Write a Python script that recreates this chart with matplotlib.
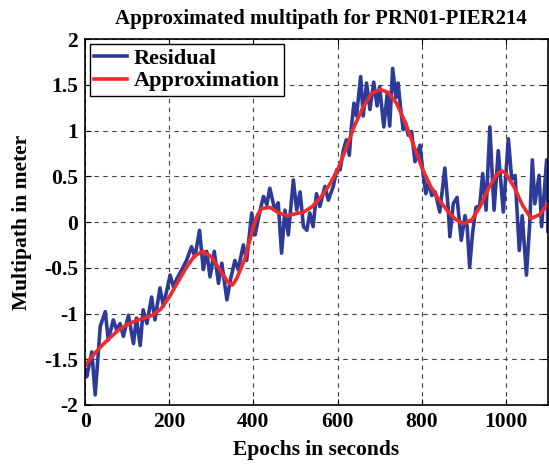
import numpy as np
import matplotlib
matplotlib.use("Agg")
import matplotlib.pyplot as plt
from matplotlib.ticker import FormatStrFormatter

plt.rcParams["font.family"] = ["Liberation Serif", "DejaVu Serif"]
plt.rcParams["font.weight"] = "bold"
plt.rcParams["axes.unicode_minus"] = False

# residual multipath
res_t = [0, 4, 16, 24, 36, 48, 55, 67, 75, 83, 91, 103, 115, 122, 131, 138, 147,
         158, 166, 178, 186, 202, 210, 218, 230, 241, 253, 261, 272, 281, 289, 297,
         307, 317, 325, 337, 346, 356, 364, 376, 384, 396, 404, 416, 424, 432, 439,
         451, 459, 467, 475, 483, 495, 503, 511, 519, 527, 534, 542, 550, 558, 570,
         578, 590, 598, 606, 614, 621, 628, 633, 639, 645, 655, 661, 669, 677, 686,
         694, 700, 710, 718, 724, 731, 739, 744, 750, 756, 762, 768, 776, 784, 796,
         804, 810, 816, 824, 832, 843, 855, 863, 867, 875, 884, 894, 903, 908, 914,
         921, 929, 938, 945, 953, 962, 972, 982, 994, 1006, 1014, 1022, 1032, 1039,
         1049, 1057, 1063, 1069, 1079, 1085, 1097, 1100]
res_v = [-1.62, -1.69, -1.42, -1.89, -1.14, -0.98, -1.29, -1.07, -1.18, -1.11, -1.25,
         -1.02, -1.33, -1.05, -1.35, -0.96, -1.11, -0.82, -1.07, -0.72, -0.92, -0.58,
         -0.71, -0.62, -0.52, -0.42, -0.27, -0.38, -0.09, -0.52, -0.32, -0.60, -0.32,
         -0.67, -0.45, -0.85, -0.62, -0.42, -0.52, -0.25, -0.42, 0.10, -0.14, 0.13,
         0.28, 0.19, 0.37, 0.13, 0.21, -0.34, 0.13, -0.14, 0.46, 0.13, 0.33, -0.05,
         -0.09, 0.10, -0.05, 0.31, 0.17, 0.39, 0.24, 0.39, 0.57, 0.57, 0.79, 0.90,
         0.73, 1.04, 1.30, 1.16, 1.59, 1.16, 1.52, 1.23, 1.53, 1.27, 1.48, 1.04, 1.40,
         1.05, 1.68, 1.36, 1.52, 1.24, 1.01, 1.08, 0.95, 0.99, 0.66, 0.84, 0.50, 0.31,
         0.44, 0.29, 0.33, 0.11, 0.59, 0.15, -0.16, 0.20, 0.27, -0.20, 0.07, -0.05,
         -0.49, -0.12, 0.16, 0.18, 0.53, 0.13, 1.04, 0.13, 0.78, 0.11, 0.91, 0.47,
         0.51, -0.31, 0.07, -0.58, 0.00, 0.68, 0.20, 0.51, -0.05, 0.68, -0.10]

# smooth approximation
app_t = [0, 20, 40, 60, 80, 100, 120, 140, 160, 180, 200, 220, 240, 260, 280, 300,
         320, 340, 350, 360, 380, 400, 410, 420, 440, 460, 480, 500, 520, 540, 560,
         580, 600, 620, 640, 660, 680, 700, 720, 740, 760, 780, 800, 820, 840, 860,
         880, 900, 920, 940, 960, 980, 990, 1000, 1020, 1040, 1060, 1080, 1100]
app_v = [-1.57, -1.45, -1.35, -1.26, -1.18, -1.12, -1.08, -1.05, -1.02, -0.95, -0.82,
         -0.66, -0.50, -0.37, -0.32, -0.38, -0.52, -0.66, -0.69, -0.62, -0.40, -0.05,
         0.08, 0.15, 0.16, 0.10, 0.07, 0.09, 0.11, 0.17, 0.27, 0.40, 0.57, 0.80, 1.05,
         1.25, 1.40, 1.45, 1.42, 1.30, 1.10, 0.85, 0.60, 0.40, 0.25, 0.13, 0.03, -0.02,
         0.03, 0.18, 0.38, 0.53, 0.56, 0.53, 0.38, 0.18, 0.04, 0.08, 0.20]

fig = plt.figure(figsize=(5.49, 4.66), dpi=100)
ax = fig.add_axes([0.155, 0.131, 0.843, 0.785])

ax.plot(res_t, res_v, color="#2e3a98", lw=2.6, label="Residual")
ax.plot(app_t, app_v, color="#ee2a2a", lw=2.6, label="Approximation")

ax.set_xlim(0, 1100)
ax.set_ylim(-2, 2)
ax.set_xticks([0, 200, 400, 600, 800, 1000])
ax.set_yticks(np.arange(-2, 2.01, 0.5))
ax.yaxis.set_major_formatter(FormatStrFormatter("%g"))
ax.tick_params(direction="in", top=True, right=True, labelsize=15.5, length=4, pad=5)
for s in ax.spines.values():
    s.set_linewidth(1.2)
ax.grid(True, linestyle=(0, (4, 4)), color="0.25", lw=0.8)

ax.set_title("Approximated multipath for PRN01-PIER214", fontsize=15,
             fontweight="bold", pad=11, x=0.51)
ax.set_xlabel("Epochs in seconds", fontsize=15.5, fontweight="bold", labelpad=6)
ax.set_ylabel("Multipath in meter", fontsize=15.5, fontweight="bold", labelpad=9)

leg = ax.legend(loc="upper left", fontsize=16, fancybox=False, framealpha=1,
                edgecolor="black", handlelength=1.5, borderaxespad=0.2,
                borderpad=0.2, labelspacing=0.1, handletextpad=0.3)
leg.get_frame().set_linewidth(1.0)

fig.savefig("out.png", dpi=100)
